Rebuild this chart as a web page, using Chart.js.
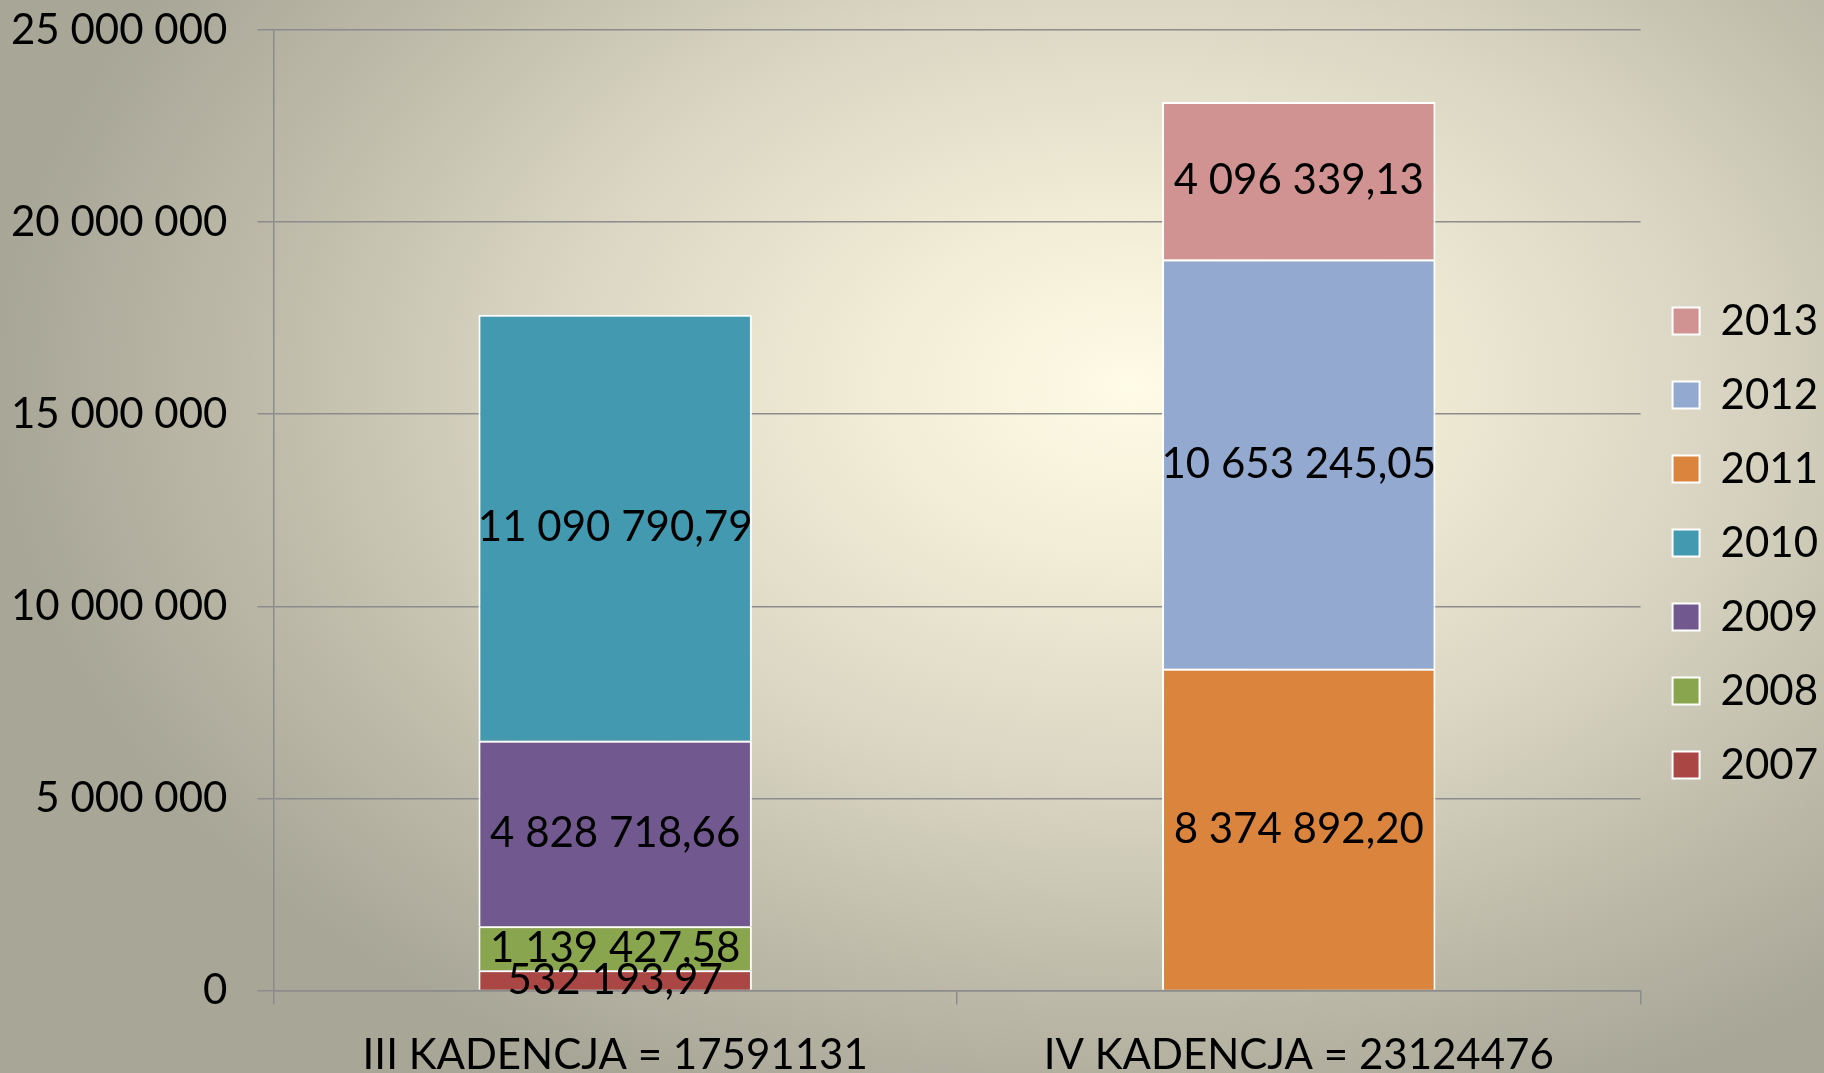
<!DOCTYPE html>
<html>
<head>
<meta charset="utf-8">
<script src="https://cdn.jsdelivr.net/npm/chart.js@4.4.1/dist/chart.umd.min.js"></script>
<style>
    html, body { margin: 0; padding: 0; }
    #wrap {
        width: 1824px;
        height: 1073px;
        background: radial-gradient(ellipse 62% 72% at 62% 36%, #fefbe6 0%, #f2edd6 22%, #d9d5c2 52%, #bdbaa9 78%, #a8a697 100%);
    }
</style>
</head>
<body>
<div id="wrap"><canvas id="chart"></canvas></div>
<script>
// Dane
const kadencje = ['III KADENCJA = 17591131', 'IV KADENCJA = 23124476'];
const lata = ['2007', '2008', '2009', '2010', '2011', '2012', '2013'];
const wartosci2007 = [532193.97, null];
const wartosci2008 = [1139427.58, null];
const wartosci2009 = [4828718.66, null];
const wartosci2010 = [11090790.79, null];
const wartosci2011 = [null, 8374892.20];
const wartosci2012 = [null, 10653245.05];
const wartosci2013 = [null, 4096339.13];
const kolory = ['#aa4643', '#89a54e', '#71588f', '#4299b0', '#db843d', '#93a9cf', '#d19392'];
const yTicks = [0, 5000000, 10000000, 15000000, 20000000, 25000000];

const seriesValues = [wartosci2007, wartosci2008, wartosci2009, wartosci2010, wartosci2011, wartosci2012, wartosci2013];

function formatPL(v, decimals) {
    const parts = v.toFixed(decimals).split('.');
    const intPart = parts[0].replace(/\B(?=(\d{3})+(?!\d))/g, ' ');
    return parts.length > 1 ? intPart + ',' + parts[1] : intPart;
}

// Etykiety wartości na segmentach
const valueLabels = {
    id: 'valueLabels',
    afterDatasetsDraw(chart) {
        const ctx = chart.ctx;
        ctx.save();
        ctx.font = '42px Lato';
        ctx.fillStyle = '#000';
        ctx.textAlign = 'center';
        ctx.textBaseline = 'middle';
        chart.data.datasets.forEach((ds, i) => {
            const meta = chart.getDatasetMeta(i);
            meta.data.forEach((bar, j) => {
                const v = ds.data[j];
                if (v === null || v === undefined) return;
                const p = bar.getProps(['x', 'y', 'base'], true);
                ctx.fillText(formatPL(v, 2), p.x, (p.y + p.base) / 2);
            });
        });
        ctx.restore();
    }
};

const gridColor = '#8c8c8c';

new Chart(document.getElementById('chart'), {
    type: 'bar',
    data: {
        labels: kadencje,
        datasets: lata.map((rok, i) => ({
            label: rok,
            data: seriesValues[i],
            backgroundColor: kolory[i],
            borderColor: '#ffffff',
            borderWidth: 2,
            barPercentage: 0.4,
            categoryPercentage: 1.0
        }))
    },
    options: {
        responsive: true,
        maintainAspectRatio: false,
        animation: false,
        layout: {
            padding: { top: 30, left: -19, right: -4, bottom: -34 }
        },
        plugins: {
            legend: {
                position: 'right',
                align: 'start',
                reverse: true,
                // pusty tytuł tylko po to, żeby zsunąć legendę w dół
                title: { display: true, text: '', font: { size: 10 }, padding: { top: 113, bottom: 113 } },
                labels: {
                    boxWidth: 27,
                    boxHeight: 27,
                    padding: 32,
                    color: '#000',
                    font: { family: 'Lato', size: 42 }
                }
            },
            tooltip: { enabled: false }
        },
        scales: {
            x: {
                stacked: true,
                grid: {
                    offset: true,
                    drawOnChartArea: false,
                    color: gridColor,
                    lineWidth: 1.5,
                    tickLength: 14
                },
                border: { color: gridColor, width: 1.5 },
                ticks: {
                    color: '#000',
                    font: { family: 'Lato', size: 42 },
                    padding: 26
                }
            },
            y: {
                stacked: true,
                min: 0,
                max: 25000000,
                afterBuildTicks: axis => { axis.ticks = yTicks.map(v => ({ value: v })); },
                afterFit: axis => { axis.paddingTop = 0; axis.paddingBottom = 0; },
                grid: {
                    color: gridColor,
                    lineWidth: 1.5,
                    tickLength: 16
                },
                border: { color: gridColor, width: 1.5 },
                ticks: {
                    color: '#000',
                    font: { family: 'Lato', size: 42 },
                    padding: 30,
                    callback: v => formatPL(v, 0)
                }
            }
        }
    },
    plugins: [valueLabels]
});
</script>
</body>
</html>
